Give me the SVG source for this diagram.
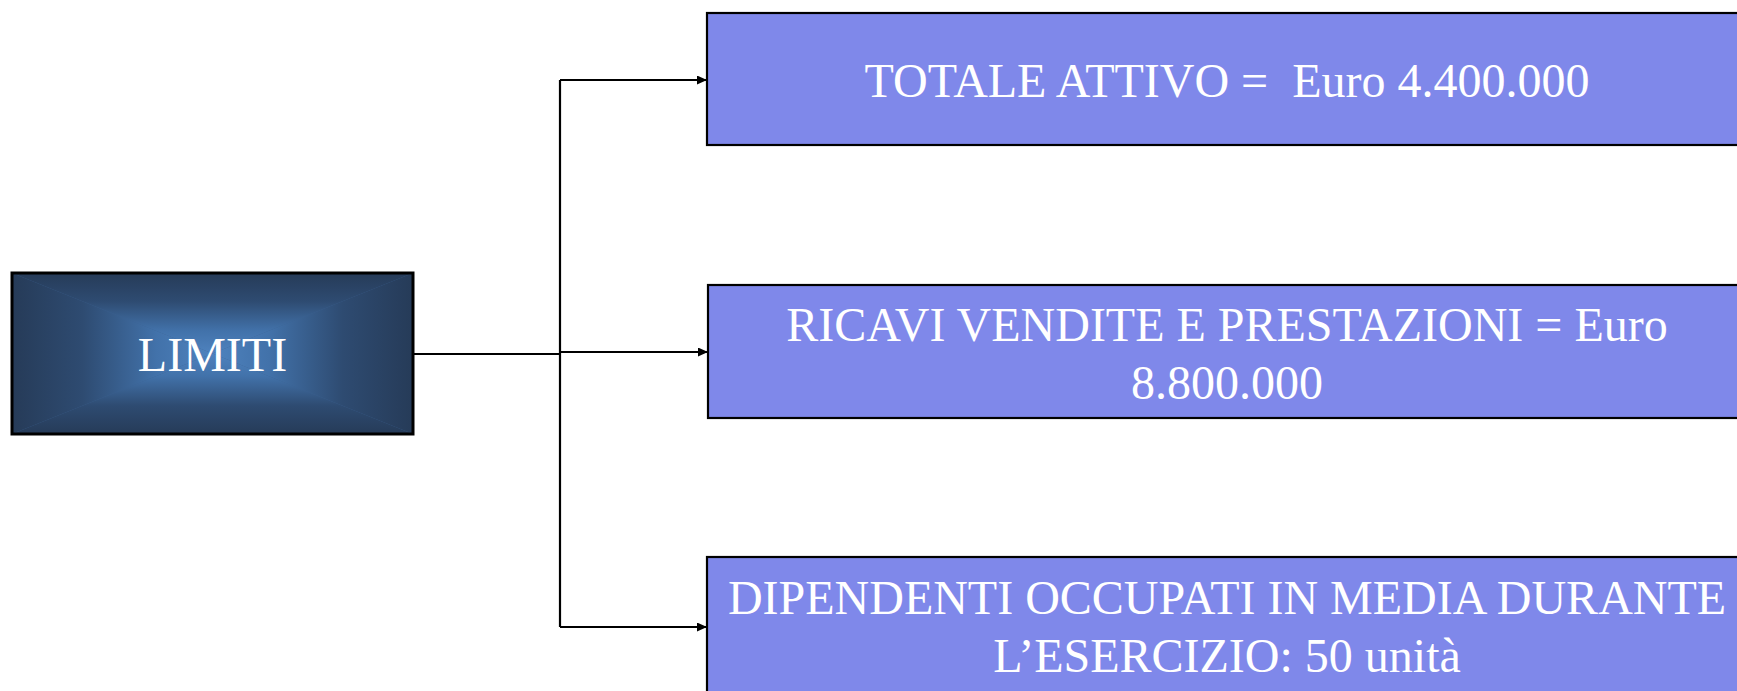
<svg xmlns="http://www.w3.org/2000/svg" width="1737" height="691" viewBox="0 0 1737 691">
  <style>
    .box { fill: #7F88EA; stroke: #000; stroke-width: 2.2; }
    .txt { font-family: "Liberation Serif", "Times New Roman", serif; font-size: 48px; fill: #fff; text-anchor: middle; white-space: pre; }
    .conn { fill: none; stroke: #000; stroke-width: 2.2; }
    .s0 { stop-color: #263B58; }
    .s1 { stop-color: #2E4B71; }
    .s2 { stop-color: #4272AA; }
    .s3 { stop-color: #4E82BE; }
  </style>
  <defs>
    <marker id="arr" markerUnits="userSpaceOnUse" markerWidth="11" markerHeight="10" refX="10" refY="4.5" orient="auto">
      <path d="M0,0 L10,4.5 L0,9 z" fill="#000"/>
    </marker>
    <linearGradient id="gT" gradientUnits="userSpaceOnUse" x1="0" y1="273" x2="0" y2="353.5">
      <stop offset="0" class="s0"/><stop offset="0.35" class="s1"/><stop offset="0.72" class="s2"/><stop offset="1" class="s3"/>
    </linearGradient>
    <linearGradient id="gB" gradientUnits="userSpaceOnUse" x1="0" y1="434" x2="0" y2="353.5">
      <stop offset="0" class="s0"/><stop offset="0.35" class="s1"/><stop offset="0.72" class="s2"/><stop offset="1" class="s3"/>
    </linearGradient>
    <linearGradient id="gL" gradientUnits="userSpaceOnUse" x1="12" y1="0" x2="212.5" y2="0">
      <stop offset="0" class="s0"/><stop offset="0.35" class="s1"/><stop offset="0.72" class="s2"/><stop offset="1" class="s3"/>
    </linearGradient>
    <linearGradient id="gR" gradientUnits="userSpaceOnUse" x1="413" y1="0" x2="212.5" y2="0">
      <stop offset="0" class="s0"/><stop offset="0.35" class="s1"/><stop offset="0.72" class="s2"/><stop offset="1" class="s3"/>
    </linearGradient>
  </defs>
  <rect width="1737" height="691" fill="#fff"/>

  <g id="connectors">
    <path class="conn" d="M413,354 L560,354"/>
    <path class="conn" d="M560,80 L560,627"/>
    <path class="conn" d="M560,80 L707,80" marker-end="url(#arr)"/>
    <path class="conn" d="M560,352 L708,352" marker-end="url(#arr)"/>
    <path class="conn" d="M560,627 L707,627" marker-end="url(#arr)"/>
  </g>

  <g id="limiti">
    <rect x="12" y="273" width="401" height="161" fill="#3A6090"/>
    <polygon points="12,273 413,273 212.5,353.5" fill="url(#gT)"/>
    <polygon points="12,434 413,434 212.5,353.5" fill="url(#gB)"/>
    <polygon points="12,273 12,434 212.5,353.5" fill="url(#gL)"/>
    <polygon points="413,273 413,434 212.5,353.5" fill="url(#gR)"/>
    <rect x="12" y="273" width="401" height="161" fill="none" stroke="#000" stroke-width="3"/>
    <text class="txt" x="212.5" y="370.5">LIMITI</text>
  </g>

  <g id="totale-attivo">
    <rect class="box" x="707" y="13" width="1045" height="132"/>
    <text class="txt" x="1227" y="96.7">TOTALE ATTIVO =  Euro 4.400.000</text>
  </g>

  <g id="ricavi">
    <rect class="box" x="708" y="285" width="1045" height="133"/>
    <text class="txt" x="1227" y="340.7">RICAVI VENDITE E PRESTAZIONI = Euro</text>
    <text class="txt" x="1227" y="398.5">8.800.000</text>
  </g>

  <g id="dipendenti">
    <rect class="box" x="707" y="557" width="1045" height="160"/>
    <text class="txt" x="1227" y="614">DIPENDENTI OCCUPATI IN MEDIA DURANTE</text>
    <text class="txt" x="1227" y="671.7">L’ESERCIZIO: 50 unità</text>
  </g>
</svg>
